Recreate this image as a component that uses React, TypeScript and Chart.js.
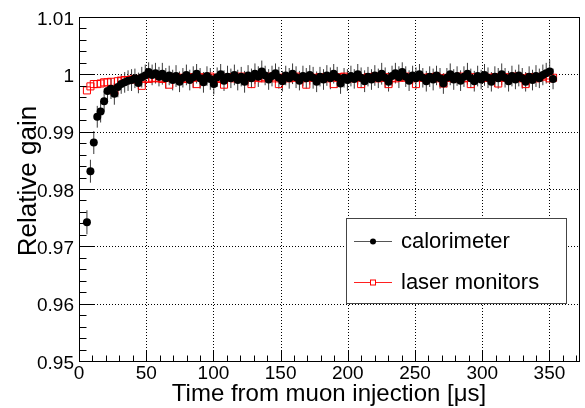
import React, { useEffect, useRef } from "react";
import { Chart, registerables } from "chart.js";

Chart.register(...registerables);

const times = [
  5.9, 8.5, 11.0, 13.6, 16.1, 18.7, 21.2, 23.8, 26.3, 28.9, 31.4, 34.0, 36.5, 39.1, 41.6, 44.2,
  46.7, 49.3, 51.8, 54.4, 56.9, 59.5, 62.0, 64.6, 67.1, 69.7, 72.2, 74.8, 77.3, 79.9, 82.4, 85.0,
  87.5, 90.1, 92.6, 95.2, 97.7, 100.3, 102.8, 105.4, 107.9, 110.5, 113.0, 115.6, 118.1, 120.7,
  123.2, 125.8, 128.3, 130.9, 133.4, 136.0, 138.5, 141.1, 143.6, 146.2, 148.7, 151.3, 153.8,
  156.4, 158.9, 161.5, 164.0, 166.6, 169.1, 171.7, 174.2, 176.8, 179.3, 181.9, 184.4, 187.0,
  189.5, 192.1, 194.6, 197.2, 199.7, 202.3, 204.8, 207.4, 209.9, 212.5, 215.0, 217.6, 220.1,
  222.7, 225.2, 227.8, 230.3, 232.9, 235.4, 238.0, 240.5, 243.1, 245.6, 248.2, 250.7, 253.3,
  255.8, 258.4, 260.9, 263.5, 266.0, 268.6, 271.1, 273.7, 276.2, 278.8, 281.3, 283.9, 286.4,
  289.0, 291.5, 294.1, 296.6, 299.2, 301.7, 304.3, 306.8, 309.4, 311.9, 314.5, 317.0, 319.6,
  322.1, 324.7, 327.2, 329.8, 332.3, 334.9, 337.4, 340.0, 342.5, 345.1, 347.6, 350.2, 352.7,
];

const calorimeter = [
  0.9742, 0.9831, 0.9881, 0.9926, 0.9935, 0.9953, 0.9971, 0.9975, 0.9966, 0.9978, 0.9983, 0.9986,
  0.9989, 0.999, 0.9993, 0.9985, 0.9995, 0.9998, 1.0004, 0.9999, 1.0002, 0.9996, 1.0001, 0.9993,
  0.9998, 0.999, 0.9997, 0.9987, 0.9994, 0.9999, 0.999, 0.9995, 1.0001, 0.9993, 0.9986, 0.9997,
  0.9992, 0.9983, 0.9995, 1.0, 0.9989, 0.9996, 0.9993, 0.9999, 0.999, 0.9996, 0.9987, 0.9998,
  0.9993, 1.0001, 0.9996, 1.0005, 0.9998, 0.9991, 0.9997, 1.0002, 0.9994, 0.9988, 0.9998, 0.9993,
  1.0001, 0.9995, 0.9989, 0.9997, 0.9993, 0.9999, 0.9994, 0.9987, 0.9996, 0.9991, 0.9998, 0.9993,
  1.0001, 0.9995, 0.9984, 0.9994, 0.999, 0.9997, 0.9992, 1.0, 0.9994, 0.9988, 0.9996, 0.9991,
  0.9998, 0.9993, 1.0001, 0.9994, 0.9987, 0.9997, 1.0002, 0.9995, 1.0004, 0.9996, 0.9989, 0.9998,
  0.9993, 1.0, 0.9994, 0.9988, 0.9996, 0.9991, 0.9998, 0.9993, 0.9984, 0.9994, 1.0, 0.9991,
  0.9997, 0.9989, 0.9996, 1.0001, 0.9993, 0.9988, 0.9997, 0.9991, 0.9999, 0.9994, 0.9987, 0.9996,
  0.9993, 1.0, 0.9994, 0.9988, 0.9997, 0.9991, 0.9998, 0.9993, 0.9987, 0.9996, 0.999, 0.9997,
  0.9993, 0.9999, 1.0002, 1.0005, 0.9992,
];

const calorimeterErr = [
  0.0021, 0.002, 0.002, 0.0019, 0.0019, 0.0018, 0.0018, 0.0018, 0.0019, 0.0018, 0.0017, 0.0018,
  0.0018, 0.0019, 0.0017, 0.0018, 0.0018, 0.0019, 0.0017, 0.0018, 0.0018, 0.0017, 0.0019, 0.0018,
  0.0017, 0.0018, 0.0019, 0.0018, 0.0017, 0.0018, 0.0018, 0.0019, 0.0017, 0.0018, 0.0018, 0.0017,
  0.0019, 0.0018, 0.0017, 0.0018, 0.0018, 0.0019, 0.0017, 0.0018, 0.0018, 0.0017, 0.0019, 0.0018,
  0.0017, 0.0018, 0.0018, 0.0019, 0.0017, 0.0018, 0.0018, 0.0017, 0.0019, 0.0018, 0.0017, 0.0018,
  0.0018, 0.0019, 0.0017, 0.0018, 0.0018, 0.0017, 0.0019, 0.0018, 0.0017, 0.0018, 0.0018, 0.0019,
  0.0017, 0.0018, 0.0018, 0.0017, 0.0019, 0.0018, 0.0017, 0.0018, 0.0018, 0.0019, 0.0017, 0.0018,
  0.0018, 0.0017, 0.0019, 0.0018, 0.0017, 0.0018, 0.0018, 0.0019, 0.0017, 0.0018, 0.0018, 0.0017,
  0.0019, 0.0018, 0.0017, 0.0018, 0.0018, 0.0019, 0.0017, 0.0018, 0.0018, 0.0017, 0.0019, 0.0018,
  0.0017, 0.0018, 0.0018, 0.0019, 0.0017, 0.0018, 0.0018, 0.0017, 0.0019, 0.0018, 0.0017, 0.0018,
  0.0018, 0.0019, 0.0017, 0.0018, 0.0018, 0.0017, 0.0019, 0.0018, 0.0017, 0.0018, 0.0018, 0.0019,
  0.0017, 0.0018, 0.0018, 0.002, 0.0018,
];

const laser = [
  0.9972, 0.9979, 0.9983, 0.9983, 0.9984, 0.9986, 0.9986, 0.9987, 0.9971, 0.9988, 0.9989, 0.999,
  0.999, 0.9991, 0.9992, 0.9991, 0.998, 0.9993, 0.9992, 0.9994, 0.9993, 0.9994, 0.9992, 0.9994,
  0.9982, 0.9993, 0.9995, 0.9993, 0.9994, 0.9992, 0.9995, 0.9994, 0.9983, 0.9995, 0.9993, 0.9994,
  0.9996, 0.9993, 0.9994, 0.9992, 0.9982, 0.9994, 0.9995, 0.9993, 0.9994, 0.9996, 0.9993, 0.9994,
  0.9983, 0.9995, 0.9994, 0.9993, 0.9995, 0.9994, 0.9996, 0.9993, 0.9983, 0.9994, 0.9995, 0.9993,
  0.9994, 0.9996, 0.9994, 0.9993, 0.9982, 0.9995, 0.9994, 0.9993, 0.9995, 0.9994, 0.9993, 0.9995,
  0.9983, 0.9994, 0.9995, 0.9996, 0.9994, 0.9993, 0.9995, 0.9994, 0.9983, 0.9993, 0.9995, 0.9994,
  0.9996, 0.9993, 0.9994, 0.9995, 0.9983, 0.9994, 0.9993, 0.9995, 0.9994, 0.9996, 0.9994, 0.9993,
  0.9983, 0.9995, 0.9994, 0.9993, 0.9995, 0.9994, 0.9996, 0.9993, 0.9984, 0.9994, 0.9995, 0.9993,
  0.9994, 0.9996, 0.9993, 0.9994, 0.9983, 0.9995, 0.9994, 0.9993, 0.9995, 0.9994, 0.9993, 0.9995,
  0.9984, 0.9994, 0.9995, 0.9993, 0.9994, 0.9996, 0.9994, 0.9993, 0.9983, 0.9995, 0.9994, 0.9993,
  0.9995, 0.9996, 0.9998, 0.9993, 0.9994,
];

const yTickValues = [0.95, 0.96, 0.97, 0.98, 0.99, 1.0, 1.01];
const yTickLabels = ["0.95", "0.96", "0.97", "0.98", "0.99", "1", "1.01"];
const xTickValues = [0, 50, 100, 150, 200, 250, 300, 350];
const xTickLabels = ["0", "50", "100", "150", "200", "250", "300", "350"];
const seriesLabels = ["calorimeter", "laser monitors"];
const xTitle = "Time from muon injection [\u03bcs]";
const yTitle = "Relative gain";

const FONT = '"Liberation Sans", Arial, sans-serif';

const framePlugin = {
  id: "rootFrame",
  beforeDatasetsDraw(chart: any) {
    const { ctx, chartArea: a, scales } = chart;
    const xs = scales.x;
    const ys = scales.y;
    ctx.save();
    ctx.strokeStyle = "#000";
    ctx.lineWidth = 1;
    ctx.setLineDash([1, 2]);
    for (const v of xTickValues) {
      const px = Math.round(xs.getPixelForValue(v)) + 0.5;
      if (px <= a.left + 1 || px >= a.right - 1) continue;
      ctx.beginPath();
      ctx.moveTo(px, a.top);
      ctx.lineTo(px, a.bottom);
      ctx.stroke();
    }
    for (const v of yTickValues) {
      const py = Math.round(ys.getPixelForValue(v)) + 0.5;
      if (py <= a.top + 1 || py >= a.bottom - 1) continue;
      ctx.beginPath();
      ctx.moveTo(a.left, py);
      ctx.lineTo(a.right, py);
      ctx.stroke();
    }
    ctx.setLineDash([]);
    const meta = chart.getDatasetMeta(0);
    ctx.strokeStyle = "#3a3a3a";
    meta.data.forEach((pt: any, i: number) => {
      const v = calorimeter[i];
      const e = calorimeterErr[i];
      const y1 = ys.getPixelForValue(v - e);
      const y2 = ys.getPixelForValue(v + e);
      ctx.beginPath();
      ctx.moveTo(pt.x, y1);
      ctx.lineTo(pt.x, y2);
      ctx.stroke();
    });
    ctx.restore();
  },
  afterDraw(chart: any) {
    const { ctx, chartArea: a, scales } = chart;
    const xs = scales.x;
    const ys = scales.y;
    ctx.save();
    ctx.strokeStyle = "#000";
    ctx.lineWidth = 1;
    ctx.strokeRect(Math.round(a.left) + 0.5, Math.round(a.top) + 0.5, Math.round(a.right - a.left), Math.round(a.bottom - a.top));
    for (let k = 0; k * 10 <= xs.max; k++) {
      const v = k * 10;
      const px = Math.round(xs.getPixelForValue(v)) + 0.5;
      const len = k % 5 === 0 ? 11 : 5.5;
      ctx.beginPath();
      ctx.moveTo(px, a.bottom);
      ctx.lineTo(px, a.bottom - len);
      ctx.stroke();
    }
    for (let k = 0; k <= 30; k++) {
      const v = 0.95 + k * 0.002;
      const py = Math.round(ys.getPixelForValue(v)) + 0.5;
      const len = k % 5 === 0 ? 15 : 7.5;
      ctx.beginPath();
      ctx.moveTo(a.left, py);
      ctx.lineTo(a.left + len, py);
      ctx.stroke();
    }
    ctx.fillStyle = "#000";
    ctx.font = `19px ${FONT}`;
    ctx.textBaseline = "alphabetic";
    ctx.textAlign = "center";
    xTickValues.forEach((v, i) => {
      ctx.fillText(xTickLabels[i], xs.getPixelForValue(v), a.bottom + 18);
    });
    ctx.textAlign = "right";
    yTickValues.forEach((v, i) => {
      ctx.fillText(yTickLabels[i], a.left - 5, ys.getPixelForValue(v) + 7.5);
    });
    ctx.font = `24px ${FONT}`;
    ctx.textAlign = "center";
    ctx.fillText(xTitle, (a.left + a.right) / 2, 401);
    ctx.save();
    ctx.font = `26px ${FONT}`;
    ctx.translate(36, 181);
    ctx.rotate(-Math.PI / 2);
    ctx.fillText(yTitle, 0, 0);
    ctx.restore();
    const lx = 346, ly = 218, lw = 220, lh = 85;
    ctx.fillStyle = "#fff";
    ctx.fillRect(lx, ly, lw, lh);
    ctx.strokeStyle = "#444";
    ctx.strokeRect(lx + 0.5, ly + 0.5, lw, lh);
    const rows = [241, 282];
    ctx.font = `22px ${FONT}`;
    ctx.textAlign = "left";
    ctx.textBaseline = "middle";
    ctx.strokeStyle = "#555";
    ctx.beginPath();
    ctx.moveTo(354, rows[0] + 0.5);
    ctx.lineTo(392, rows[0] + 0.5);
    ctx.stroke();
    ctx.fillStyle = "#000";
    ctx.beginPath();
    ctx.arc(373, rows[0] + 0.5, 3, 0, Math.PI * 2);
    ctx.fill();
    ctx.fillText(seriesLabels[0], 401, rows[0] + 1);
    ctx.strokeStyle = "#ff2020";
    ctx.beginPath();
    ctx.moveTo(354, rows[1] + 0.5);
    ctx.lineTo(392, rows[1] + 0.5);
    ctx.stroke();
    ctx.fillStyle = "#fff";
    ctx.fillRect(371, rows[1] - 1.5, 4, 4);
    ctx.strokeStyle = "#ff0000";
    ctx.strokeRect(370.5, rows[1] - 2, 5, 5);
    ctx.fillStyle = "#000";
    ctx.fillText(seriesLabels[1], 401, rows[1] + 1);
    ctx.restore();
  },
};

export default function App() {
  const ref = useRef<HTMLCanvasElement | null>(null);
  useEffect(() => {
    if (!ref.current) return;
    const chart = new Chart(ref.current, {
      type: "scatter",
      data: {
        datasets: [
          {
            label: seriesLabels[0],
            data: times.map((t, i) => ({ x: t, y: calorimeter[i] })),
            pointStyle: "circle",
            pointRadius: 4,
            pointBackgroundColor: "#000",
            pointBorderColor: "#000",
            pointBorderWidth: 0,
            showLine: false,
          },
          {
            label: seriesLabels[1],
            data: times.map((t, i) => ({ x: t, y: laser[i] })),
            pointStyle: "rect",
            pointRadius: 5,
            pointBackgroundColor: "rgba(0,0,0,0)",
            pointBorderColor: "#ff0000",
            pointBorderWidth: 1,
            showLine: false,
          },
        ],
      },
      options: {
        responsive: false,
        animation: false,
        layout: { padding: { left: 79, top: 17, right: 4, bottom: 47 } },
        plugins: { legend: { display: false }, tooltip: { enabled: false } },
        scales: {
          x: { type: "linear", min: 0, max: 372, display: false },
          y: { type: "linear", min: 0.95, max: 1.01, display: false },
        },
      },
      plugins: [framePlugin],
    });
    return () => chart.destroy();
  }, []);
  return (
    <div style={{ position: "absolute", left: 0, top: 0, width: 585, height: 408, background: "#fff" }}>
      <canvas ref={ref} width={585} height={408} style={{ display: "block" }} />
    </div>
  );
}
